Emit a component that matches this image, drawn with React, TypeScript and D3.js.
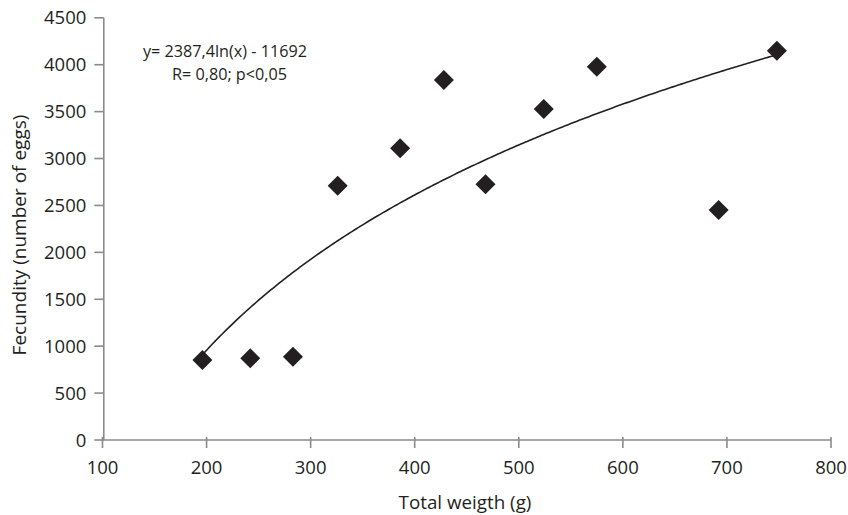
import React, { useEffect, useRef } from "react";
import * as d3 from "d3";

const weights = [196, 242, 283, 326, 386, 428, 468, 524, 575, 692, 748];
const fecundity = [852, 871, 888, 2710, 3109, 3837, 2725, 3528, 3979, 2451, 4149];
const xTicks = [100, 200, 300, 400, 500, 600, 700, 800];
const yTicks = [0, 500, 1000, 1500, 2000, 2500, 3000, 3500, 4000, 4500];
const fitA = 2387.4;
const fitB = -11692;
const fitRange = [196, 748];
const equationLines = ["y= 2387,4ln(x) - 11692", "R= 0,80; p<0,05"];
const xLabel = "Total weigth (g)";
const yLabel = "Fecundity (number of eggs)";

const W = 848;
const H = 515;
const FONT = "'Open Sans', 'Noto Sans', sans-serif";

export default function App() {
  const ref = useRef<SVGSVGElement>(null);

  useEffect(() => {
    const svg = d3.select(ref.current);
    svg.selectAll("*").remove();

    const x = d3.scaleLinear().domain([100, 800]).range([102.5, 831]);
    const y = d3.scaleLinear().domain([0, 4500]).range([440, 17.8]);
    const axisColor = "#8a8a8a";
    const textColor = "#231f20";

    // X axis
    const xg = svg.append("g").attr("transform", `translate(0,${y(0)})`);
    xg.append("line")
      .attr("x1", x(100)).attr("x2", x(800))
      .attr("stroke", axisColor).attr("stroke-width", 1.6);
    xg.selectAll("line.t").data(xTicks).enter().append("line")
      .attr("class", "t")
      .attr("x1", (d) => x(d)).attr("x2", (d) => x(d))
      .attr("y1", -3).attr("y2", 8)
      .attr("stroke", axisColor).attr("stroke-width", 1.6);
    xg.selectAll("text").data(xTicks).enter().append("text")
      .attr("x", (d) => x(d)).attr("y", 33.5)
      .attr("text-anchor", "middle")
      .attr("font-family", FONT).attr("font-size", 18.5)
      .attr("fill", textColor)
      .text((d) => String(d));

    // Y axis
    const yg = svg.append("g").attr("transform", `translate(${x(100) + 1.3},0)`);
    yg.append("line")
      .attr("y1", y(0)).attr("y2", y(4500))
      .attr("stroke", axisColor).attr("stroke-width", 1.6);
    yg.selectAll("line.t").data(yTicks).enter().append("line")
      .attr("class", "t")
      .attr("y1", (d) => y(d)).attr("y2", (d) => y(d))
      .attr("x1", -9.5).attr("x2", 0)
      .attr("stroke", axisColor).attr("stroke-width", 1.6);
    yg.selectAll("text").data(yTicks).enter().append("text")
      .attr("x", -17.5).attr("y", (d) => y(d))
      .attr("dy", "0.36em")
      .attr("text-anchor", "end")
      .attr("font-family", FONT).attr("font-size", 18.5)
      .attr("fill", textColor)
      .text((d) => String(d));

    // Axis titles
    svg.append("text")
      .attr("x", 465).attr("y", 509)
      .attr("text-anchor", "middle")
      .attr("font-family", FONT).attr("font-size", 18.8)
      .attr("fill", textColor)
      .text(xLabel);
    svg.append("text")
      .attr("transform", `translate(26,235) rotate(-90)`)
      .attr("text-anchor", "middle")
      .attr("font-family", FONT).attr("font-size", 19)
      .attr("fill", textColor)
      .text(yLabel);

    // Fit curve
    const curveX = d3.range(fitRange[0], fitRange[1] + 0.01, 2);
    const line = d3.line<number>()
      .x((d) => x(d))
      .y((d) => y(fitA * Math.log(d) + fitB));
    svg.append("path")
      .attr("d", line(curveX) || "")
      .attr("fill", "none")
      .attr("stroke", "#231f20")
      .attr("stroke-width", 1.6);

    // Points
    const sym = d3.symbol().type(d3.symbolSquare).size(200);
    svg.selectAll("path.pt").data(weights).enter().append("path")
      .attr("class", "pt")
      .attr("d", sym() || "")
      .attr("transform", (d, i) => `translate(${x(d)},${y(fecundity[i])}) rotate(45)`)
      .attr("fill", "#231f20");

    // Equation
    svg.append("text")
      .attr("x", 143).attr("y", 57)
      .attr("font-family", FONT).attr("font-size", 16.2)
      .attr("fill", textColor)
      .text(equationLines[0]);
    svg.append("text")
      .attr("x", 172).attr("y", 79.5)
      .attr("font-family", FONT).attr("font-size", 16.2)
      .attr("fill", textColor)
      .text(equationLines[1]);
  }, []);

  return (
    <svg
      ref={ref}
      width={W}
      height={H}
      style={{ position: "fixed", left: 0, top: 0, background: "#fff" }}
    />
  );
}
